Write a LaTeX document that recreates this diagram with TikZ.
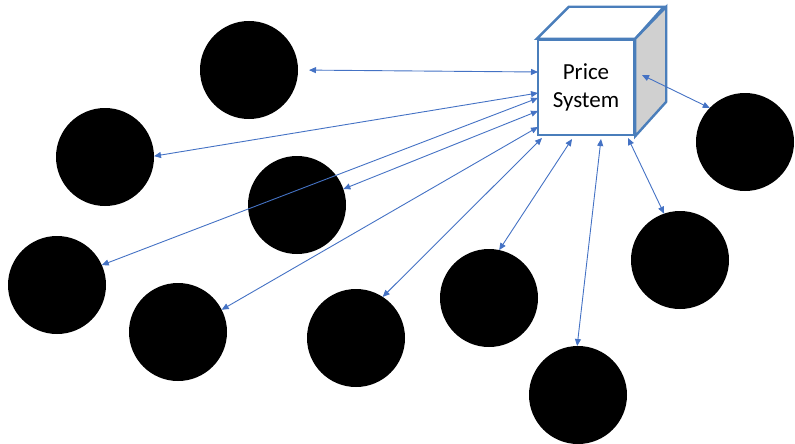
\documentclass[tikz,border=0pt]{standalone}
\usepackage{fontspec}
\setmainfont{Carlito}
\usetikzlibrary{arrows.meta}
\definecolor{linkblue}{RGB}{68,114,196}
\definecolor{boxblue}{RGB}{74,126,187}
\definecolor{sidegray}{RGB}{208,208,208}
\begin{document}
\begin{tikzpicture}[x=1pt,y=-1pt,
  agent/.style={circle,fill=black,minimum size=98pt,inner sep=0pt,outer sep=0pt},
  link/.style={draw=linkblue,line width=0.9pt,
    {Triangle[length=7pt,width=6pt]}-{Triangle[length=7pt,width=6pt]}},
  face/.style={draw=boxblue,line width=2.4pt,line join=miter}]
\useasboundingbox (0,0) rectangle (795,444);

% market participants
\node[agent] (c1) at (249,70) {};
\node[agent] (c2) at (105,157) {};
\node[agent] (c3) at (297,205) {};
\node[agent] (c4) at (57,285) {};
\node[agent] (c5) at (178,332) {};
\node[agent] (c6) at (356,338) {};
\node[agent] (c7) at (489,298) {};
\node[agent] (c8) at (578,395) {};
\node[agent] (c9) at (680,260) {};
\node[agent] (c10) at (745,142) {};

% the price system cube
\node[face,fill=white,minimum width=96pt,minimum height=95pt,inner sep=0pt,
  align=center,font=\fontsize{23}{28}\selectfont] (ps) at (586,87.5) {Price\\System};
\draw[face,fill=white] (ps.north west) -- ++(32,-32) -- ++(95,0) -- (ps.north east) -- cycle;
\draw[face,fill=sidegray] (ps.north east) -- ++(31,-32) -- ++(0,95) -- (ps.south east) -- cycle;

% connection points on the cube
\coordinate (e1) at (538,72);
\coordinate (e2) at (538,93);
\coordinate (e4) at (538,98);
\coordinate (e3) at (538,111);
\coordinate (e5) at (538,127);
\coordinate (e6) at (542,138);
\coordinate (e7) at (572,139);
\coordinate (e8) at (601,139);
\coordinate (e9) at (628,138);
\coordinate (e10) at (642,75);

% two-way links
\draw[link,shorten <=11pt] (c1.0) -- (e1);
\draw[link] (c2.1) -- (e2);
\draw[link] (c3.19) -- (e3);
\draw[link] (c4.24) -- (e4);
\draw[link] (c5.27) -- (e5);
\draw[link] (c6.57) -- (e6);
\draw[link] (c7.78) -- (e7);
\draw[link] (c8.91) -- (e8);
\draw[link] (c9.109) -- (e9);
\draw[link] (c10.136) -- (e10);
\end{tikzpicture}
\end{document}
